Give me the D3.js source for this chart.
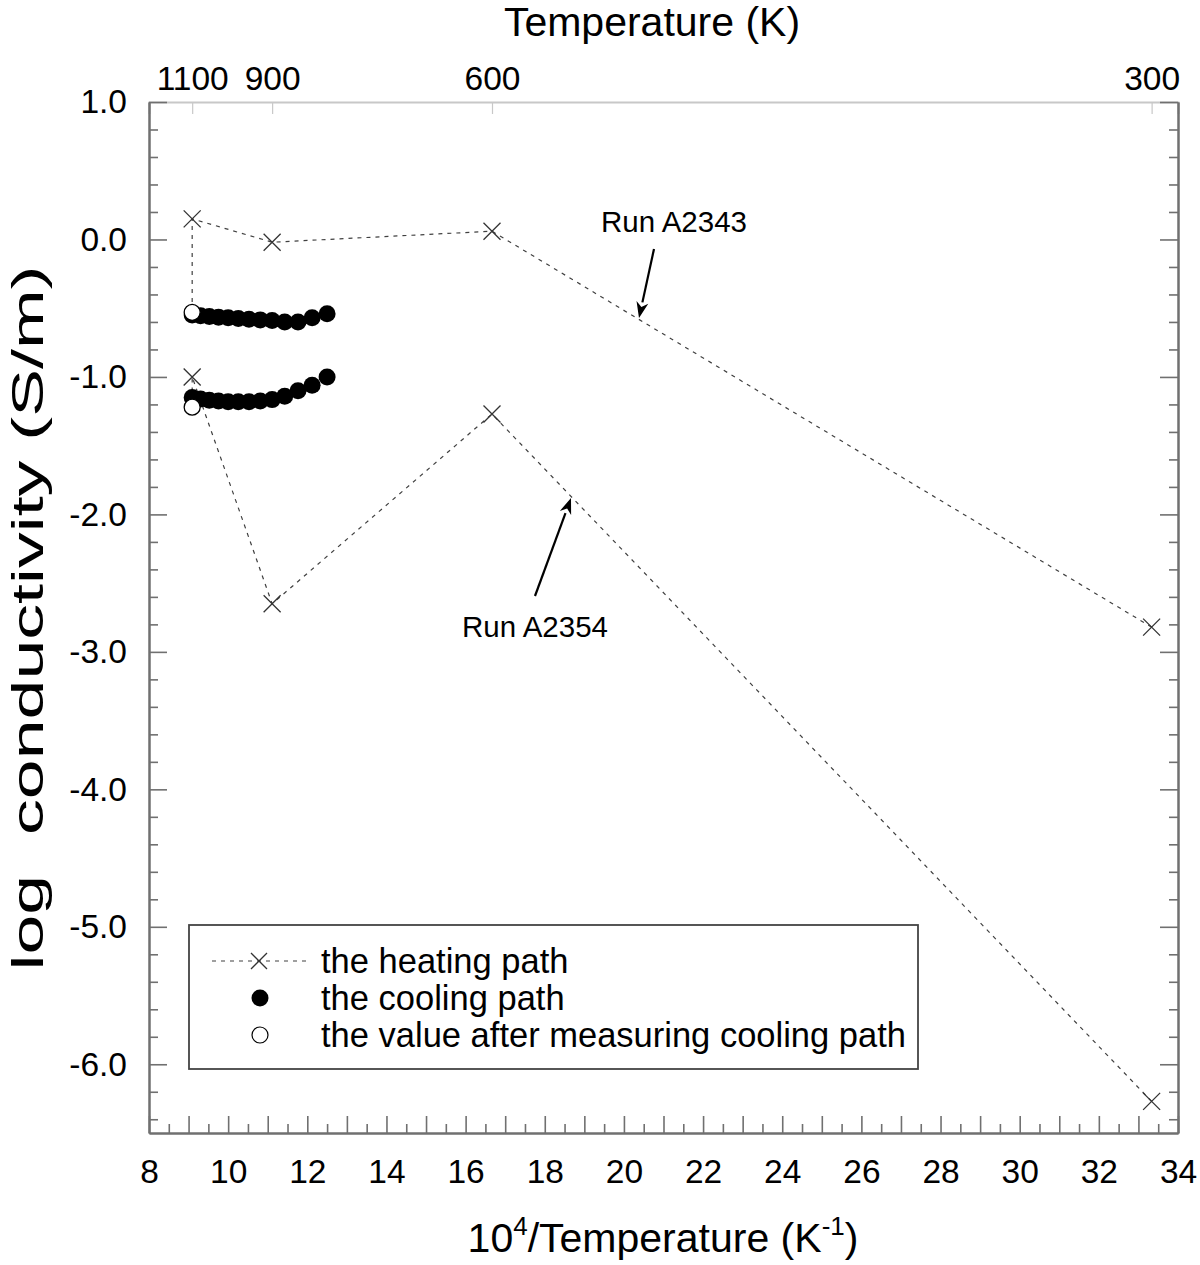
<!DOCTYPE html>
<html><head><meta charset="utf-8">
<script src="https://cdn.jsdelivr.net/npm/d3@7"></script>
<style>body{margin:0;background:#fff}svg{display:block}text{font-family:"Liberation Sans",Arial,sans-serif}</style>
</head><body>
<svg id="c" width="1200" height="1265"></svg>
<script>
// ---- data ----
const heatingTemps = [300, 600, 900, 1100];               // K
const runA2343Heating = [-2.82, 0.06, -0.02, 0.15];        // log S/m
const runA2354Heating = [-6.27, -1.27, -2.65, -1.00];
const coolingTemps = [1100, 1075, 1050, 1025, 1000, 975, 950, 925, 900, 875, 850, 825, 800];
const runA2343Cooling = [-0.55, -0.555, -0.56, -0.565, -0.57, -0.575, -0.58, -0.585, -0.59, -0.60, -0.60, -0.57, -0.54];
const runA2354Cooling = [-1.15, -1.16, -1.17, -1.175, -1.18, -1.18, -1.18, -1.175, -1.165, -1.14, -1.10, -1.06, -1.00];
const afterTemps = [1100, 1100];
const afterValues = [-0.53, -1.22];
const topTempTicks = [1100, 900, 600, 300];
const xMajorTicks = d3.range(8, 34.01, 1);
const xMinorTicks = d3.range(8.5, 34, 1);
const yMajorTicks = [1, 0, -1, -2, -3, -4, -5, -6];
const yMinorTicks = d3.range(-6.4, 1.0, 0.2).map(v => +v.toFixed(1)).filter(v => Math.abs(v % 1) > 0.01);
const legendLabels = ["the heating path", "the cooling path", "the value after measuring cooling path"];

const inv = T => 1e4 / T;
const svg = d3.select("#c");
const L = 149, R = 1178, T = 102, B = 1133;
const x = d3.scaleLinear().domain([8, 34]).range([L, R]);
const y = d3.scaleLinear().domain([-6.5, 1.0]).range([B, T]);
const axisCol = "#707070";
const TF = 33.5;

// top axis (temperature), light gray
const topAx = svg.append("g").attr("transform", `translate(0,${T})`)
  .call(d3.axisTop(x).tickValues(topTempTicks.map(inv)).tickSize(-12).tickPadding(12)
    .tickFormat((d, i) => topTempTicks[i]));
topAx.select(".domain").attr("stroke", "#c8c8c8").attr("stroke-width", 2);
topAx.selectAll(".tick line").attr("stroke", "#c8c8c8").attr("stroke-width", 1.2);
topAx.selectAll(".tick text").attr("font-size", TF).attr("fill", "#000")
  .attr("font-family", "Liberation Sans, Arial, sans-serif");

function styleAxis(g) {
  g.select(".domain").attr("stroke", axisCol).attr("stroke-width", 2);
  g.selectAll(".tick line").attr("stroke", axisCol).attr("stroke-width", 1.6);
  g.selectAll(".tick text").attr("font-size", TF).attr("fill", "#000")
    .attr("font-family", "Liberation Sans, Arial, sans-serif");
}
// bottom axis
const bAx = svg.append("g").attr("transform", `translate(0,${B})`)
  .call(d3.axisBottom(x).tickValues(xMajorTicks).tickSize(-17).tickSizeOuter(0).tickPadding(26)
    .tickFormat(d => d % 2 === 0 ? d : ""));
styleAxis(bAx);
const bAxm = svg.append("g").attr("transform", `translate(0,${B})`)
  .call(d3.axisBottom(x).tickValues(xMinorTicks).tickSize(-9).tickSizeOuter(0).tickFormat(""));
styleAxis(bAxm);
// left axis
const lAx = svg.append("g").attr("transform", `translate(${L},0)`)
  .call(d3.axisLeft(y).tickValues(yMajorTicks).tickSize(-18).tickSizeOuter(0).tickPadding(22)
    .tickFormat(d => d.toFixed(1)));
styleAxis(lAx);
const lAxm = svg.append("g").attr("transform", `translate(${L},0)`)
  .call(d3.axisLeft(y).tickValues(yMinorTicks).tickSize(-9).tickSizeOuter(0).tickFormat(""));
styleAxis(lAxm);
// right axis
const rAx = svg.append("g").attr("transform", `translate(${R},0)`)
  .call(d3.axisRight(y).tickValues(yMajorTicks).tickSize(-18).tickSizeOuter(0).tickFormat(""));
styleAxis(rAx);
const rAxm = svg.append("g").attr("transform", `translate(${R},0)`)
  .call(d3.axisRight(y).tickValues(yMinorTicks).tickSize(-9).tickSizeOuter(0).tickFormat(""));
styleAxis(rAxm);

// titles
svg.append("text").attr("x", 652).attr("y", 36).attr("text-anchor", "middle")
  .attr("font-size", 41).text("Temperature (K)");
const bt = svg.append("text").attr("x", 663).attr("y", 1252).attr("text-anchor", "middle").attr("font-size", 41);
bt.append("tspan").text("10");
bt.append("tspan").attr("font-size", 26).attr("dy", -17).text("4");
bt.append("tspan").attr("dy", 17).text("/Temperature (K");
bt.append("tspan").attr("font-size", 26).attr("dy", -17).text("-1");
bt.append("tspan").attr("dy", 17).text(")");
svg.append("text").attr("transform", "translate(43,618) rotate(-90)").attr("text-anchor", "middle")
  .attr("font-size", 44).attr("xml:space", "preserve")
  .attr("textLength", 705).attr("lengthAdjust", "spacingAndGlyphs")
  .text("log  conductivity (S/m)");

const plot = svg.append("g");
const line = d3.line().x(d => x(d[0])).y(d => y(d[1]));
function heatPts(vals) { return heatingTemps.map((t, i) => [inv(t), vals[i]]); }
function coolPts(vals) { return coolingTemps.map((t, i) => [inv(t), vals[i]]); }

[[runA2343Heating, runA2343Cooling], [runA2354Heating, runA2354Cooling]].forEach(([h, c]) => {
  const hp = heatPts(h);
  const cp = coolPts(c);
  plot.append("path").attr("d", line(hp.concat([cp[0]]))).attr("fill", "none")
    .attr("stroke", "#404040").attr("stroke-width", 1.2).attr("stroke-dasharray", "4,5");
});

const crossPath = s => `M${-s},${-s}L${s},${s}M${-s},${s}L${s},${-s}`;
[runA2343Heating, runA2354Heating].forEach(h => {
  plot.selectAll(null).data(heatPts(h)).enter().append("path")
    .attr("transform", d => `translate(${x(d[0])},${y(d[1])})`)
    .attr("d", crossPath(8.5)).attr("stroke", "#333").attr("stroke-width", 1.3).attr("fill", "none");
});

[runA2343Cooling, runA2354Cooling].forEach(c => {
  plot.selectAll(null).data(coolPts(c).slice().reverse()).enter().append("circle")
    .attr("cx", d => x(d[0])).attr("cy", d => y(d[1])).attr("r", 8.5).attr("fill", "#000");
});
plot.selectAll(null).data(afterTemps.map((t, i) => [inv(t), afterValues[i]])).enter().append("circle")
  .attr("cx", d => x(d[0])).attr("cy", d => y(d[1])).attr("r", 8).attr("fill", "#fff")
  .attr("stroke", "#000").attr("stroke-width", 1.3);

// annotations
function arrow(x1, y1, x2, y2) {
  const a = Math.atan2(y2 - y1, x2 - x1), hl = 16, hw = 6;
  const bx = x2 - hl * Math.cos(a), by = y2 - hl * Math.sin(a);
  svg.append("line").attr("x1", x1).attr("y1", y1).attr("x2", bx).attr("y2", by)
    .attr("stroke", "#000").attr("stroke-width", 2.2);
  const px = -Math.sin(a) * hw, py = Math.cos(a) * hw;
  svg.append("path").attr("d", `M${x2},${y2}L${bx + px},${by + py}L${bx + 0.3 * hl * Math.cos(a)},${by + 0.3 * hl * Math.sin(a)}L${bx - px},${by - py}Z`)
    .attr("fill", "#000");
}
svg.append("text").attr("x", 674).attr("y", 232).attr("text-anchor", "middle").attr("font-size", 29.5).text("Run A2343");
arrow(654, 249, 639, 318);
svg.append("text").attr("x", 535).attr("y", 637).attr("text-anchor", "middle").attr("font-size", 29.5).text("Run A2354");
arrow(535, 596, 571, 498);

// legend
const lg = svg.append("g");
lg.append("rect").attr("x", 189).attr("y", 925).attr("width", 729).attr("height", 144)
  .attr("fill", "#fff").attr("stroke", "#444").attr("stroke-width", 1.8);
const rowsY = [961, 998, 1035];
lg.append("line").attr("x1", 212).attr("x2", 306).attr("y1", rowsY[0]).attr("y2", rowsY[0])
  .attr("stroke", "#404040").attr("stroke-width", 1.2).attr("stroke-dasharray", "4,5");
lg.append("path").attr("transform", `translate(259,${rowsY[0]})`).attr("d", crossPath(8))
  .attr("stroke", "#333").attr("stroke-width", 1.3);
lg.append("circle").attr("cx", 260).attr("cy", rowsY[1]).attr("r", 8.5).attr("fill", "#000");
lg.append("circle").attr("cx", 260).attr("cy", rowsY[2]).attr("r", 8).attr("fill", "#fff")
  .attr("stroke", "#000").attr("stroke-width", 1.2);
lg.selectAll(null).data(legendLabels).enter().append("text")
  .attr("x", 321).attr("y", (d, i) => rowsY[i] + 12).attr("font-size", 34.5).text(d => d);
</script>
</body></html>
